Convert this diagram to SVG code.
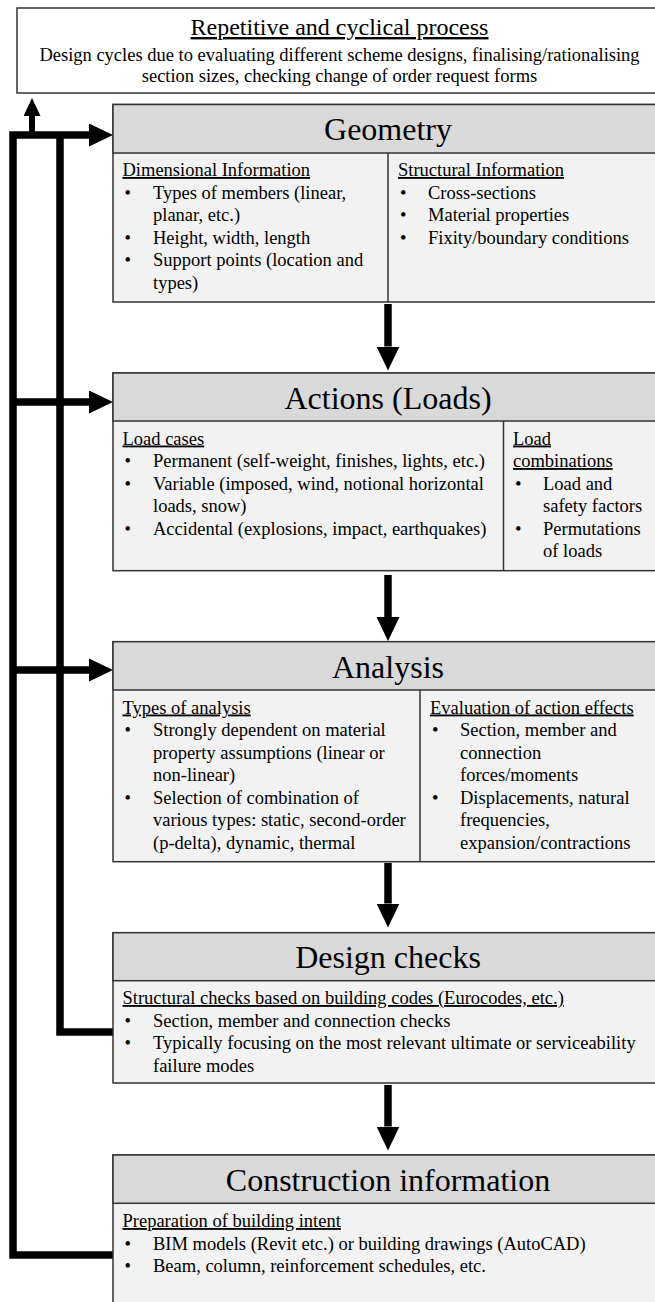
<svg xmlns="http://www.w3.org/2000/svg" width="655" height="1302" viewBox="0 0 655 1302">
  <style>
    .frame { stroke:#333; stroke-width:1.5; }
    .top { fill:#ffffff; }
    .hdr { fill:#d9d9d9; }
    .bdy { fill:#f2f2f2; }
    .div { stroke:#333; stroke-width:1.5; }
    text { font-family:"Liberation Serif","Times New Roman",serif; fill:#000; }
    .t { font-size:18.5px; }
    .c { text-anchor:middle; }
    .h { font-size:32px; text-anchor:middle; }
    .ttl { font-size:24px; text-anchor:middle; text-decoration:underline; }
    .u { text-decoration:underline; }
    .fb { fill:none; stroke:#000; stroke-width:7.5; stroke-linejoin:miter; stroke-linecap:butt; }
    .ar { fill:none; stroke:#000; stroke-width:7.5; }
    .up { fill:none; stroke:#000; stroke-width:6; }
  </style>
  <defs>
    <marker id="ah" markerUnits="userSpaceOnUse" markerWidth="24" markerHeight="23" viewBox="0 0 24 23" refX="0" refY="11.5" orient="auto">
      <path d="M0,0 L24,11.5 L0,23 Z" fill="#000"/>
    </marker>
    <marker id="ahs" markerUnits="userSpaceOnUse" markerWidth="18" markerHeight="17" viewBox="0 0 18 17" refX="0" refY="8.5" orient="auto">
      <path d="M0,0 L18,8.5 L0,17 Z" fill="#000"/>
    </marker>
  </defs>

  <g id="connectors">
    <path class="fb" d="M113,1255 H13 V135 H89" marker-end="url(#ah)"/>
    <path class="fb" d="M113,1032 H60 V135"/>
    <path class="up" d="M32,135 V116" marker-end="url(#ahs)"/>
    <path class="fb" d="M13,402 H89" marker-end="url(#ah)"/>
    <path class="fb" d="M13,670 H89" marker-end="url(#ah)"/>
    <path class="ar" d="M388,304 V346.5" marker-end="url(#ah)"/>
    <path class="ar" d="M388,575 V617" marker-end="url(#ah)"/>
    <path class="ar" d="M388,863 V903.5" marker-end="url(#ah)"/>
    <path class="ar" d="M388,1085 V1126.5" marker-end="url(#ah)"/>
  </g>

  <g id="process">
    <rect class="frame top" x="17" y="8" width="645" height="85"/>
    <text class="ttl" x="339.5" y="35">Repetitive and cyclical process</text>
    <text class="t c" x="339.5" y="60.5">Design cycles due to evaluating different scheme designs, finalising/rationalising</text>
    <text class="t c" x="339.5" y="81.5">section sizes, checking change of order request forms</text>
  </g>

  <g id="geometry">
    <rect class="frame bdy" x="113" y="104.5" width="550" height="197.5"/>
    <rect class="frame hdr" x="113" y="104.5" width="550" height="48.5"/>
    <line class="div" x1="388" y1="153" x2="388" y2="302"/>
    <text class="h" x="388" y="140">Geometry</text>
    <text class="t u" x="122.5" y="176">Dimensional Information</text>
    <text class="t" x="124.5" y="198.5">•</text>
    <text class="t" x="153" y="198.5">Types of members (linear,</text>
    <text class="t" x="153" y="221">planar, etc.)</text>
    <text class="t" x="124.5" y="243.5">•</text>
    <text class="t" x="153" y="243.5">Height, width, length</text>
    <text class="t" x="124.5" y="266">•</text>
    <text class="t" x="153" y="266">Support points (location and</text>
    <text class="t" x="153" y="288.5">types)</text>
    <text class="t u" x="398" y="176">Structural Information</text>
    <text class="t" x="400" y="198.5">•</text>
    <text class="t" x="428" y="198.5">Cross-sections</text>
    <text class="t" x="400" y="221">•</text>
    <text class="t" x="428" y="221">Material properties</text>
    <text class="t" x="400" y="243.5">•</text>
    <text class="t" x="428" y="243.5">Fixity/boundary conditions</text>
  </g>

  <g id="actions">
    <rect class="frame bdy" x="113" y="373" width="550" height="197.7"/>
    <rect class="frame hdr" x="113" y="373" width="550" height="48"/>
    <line class="div" x1="503.5" y1="421" x2="503.5" y2="570.7"/>
    <text class="h" x="388" y="408.5">Actions (Loads)</text>
    <text class="t u" x="122.5" y="444.5">Load cases</text>
    <text class="t" x="124.5" y="467">•</text>
    <text class="t" x="153" y="467">Permanent (self-weight, finishes, lights, etc.)</text>
    <text class="t" x="124.5" y="489.5">•</text>
    <text class="t" x="153" y="489.5">Variable (imposed, wind, notional horizontal</text>
    <text class="t" x="153" y="512">loads, snow)</text>
    <text class="t" x="124.5" y="534.5">•</text>
    <text class="t" x="153" y="534.5">Accidental (explosions, impact, earthquakes)</text>
    <text class="t u" x="513" y="444.5">Load</text>
    <text class="t u" x="513" y="467">combinations</text>
    <text class="t" x="515" y="489.5">•</text>
    <text class="t" x="543" y="489.5">Load and</text>
    <text class="t" x="543" y="512">safety factors</text>
    <text class="t" x="515" y="534.5">•</text>
    <text class="t" x="543" y="534.5">Permutations</text>
    <text class="t" x="543" y="557">of loads</text>
  </g>

  <g id="analysis">
    <rect class="frame bdy" x="113" y="641.7" width="550" height="220"/>
    <rect class="frame hdr" x="113" y="641.7" width="550" height="48.3"/>
    <line class="div" x1="420" y1="690" x2="420" y2="861.7"/>
    <text class="h" x="388" y="677.5">Analysis</text>
    <text class="t u" x="122.5" y="713.5">Types of analysis</text>
    <text class="t" x="124.5" y="736">•</text>
    <text class="t" x="153" y="736">Strongly dependent on material</text>
    <text class="t" x="153" y="758.5">property assumptions (linear or</text>
    <text class="t" x="153" y="781">non-linear)</text>
    <text class="t" x="124.5" y="803.5">•</text>
    <text class="t" x="153" y="803.5">Selection of combination of</text>
    <text class="t" x="153" y="826">various types: static, second-order</text>
    <text class="t" x="153" y="848.5">(p-delta), dynamic, thermal</text>
    <text class="t u" x="430" y="713.5">Evaluation of action effects</text>
    <text class="t" x="432" y="736">•</text>
    <text class="t" x="460" y="736">Section, member and</text>
    <text class="t" x="460" y="758.5">connection</text>
    <text class="t" x="460" y="781">forces/moments</text>
    <text class="t" x="432" y="803.5">•</text>
    <text class="t" x="460" y="803.5">Displacements, natural</text>
    <text class="t" x="460" y="826">frequencies,</text>
    <text class="t" x="460" y="848.5">expansion/contractions</text>
  </g>

  <g id="design-checks">
    <rect class="frame bdy" x="113" y="932.7" width="550" height="150.3"/>
    <rect class="frame hdr" x="113" y="932.7" width="550" height="48"/>
    <text class="h" x="388" y="968">Design checks</text>
    <text class="t u" x="122.5" y="1004">Structural checks based on building codes (Eurocodes, etc.)</text>
    <text class="t" x="124.5" y="1026.5">•</text>
    <text class="t" x="153" y="1026.5">Section, member and connection checks</text>
    <text class="t" x="124.5" y="1049">•</text>
    <text class="t" x="153" y="1049">Typically focusing on the most relevant ultimate or serviceability</text>
    <text class="t" x="153" y="1071.5">failure modes</text>
  </g>

  <g id="construction-information">
    <rect class="frame bdy" x="113" y="1155" width="550" height="160"/>
    <rect class="frame hdr" x="113" y="1155" width="550" height="48.3"/>
    <text class="h" x="388" y="1190.5">Construction information</text>
    <text class="t u" x="122.5" y="1227">Preparation of building intent</text>
    <text class="t" x="124.5" y="1249.5">•</text>
    <text class="t" x="153" y="1249.5">BIM models (Revit etc.) or building drawings (AutoCAD)</text>
    <text class="t" x="124.5" y="1272">•</text>
    <text class="t" x="153" y="1272">Beam, column, reinforcement schedules, etc.</text>
  </g>
</svg>
